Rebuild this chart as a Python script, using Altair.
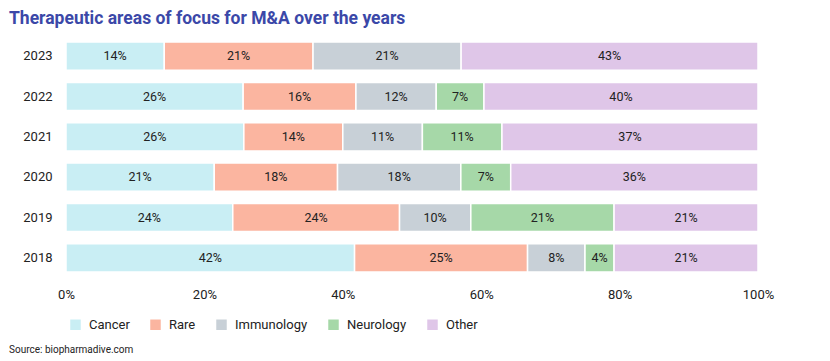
import altair as alt
import pandas as pd

years = ["2023", "2022", "2021", "2020", "2019", "2018"]
areas = ["Cancer", "Rare", "Immunology", "Neurology", "Other"]
# underlying shares and the rounded labels shown
cancer = [14.2, 25.6, 25.7, 21.4, 24.1, 41.7]
rare = [21.5, 16.3, 14.3, 17.8, 24.1, 25.0]
immunology = [21.4, 11.6, 11.5, 17.8, 10.3, 8.3]
neurology = [0.0, 6.9, 11.5, 7.2, 20.7, 4.2]
other = [42.9, 39.6, 37.0, 35.7, 20.8, 20.8]
cancer_lbl = ["14%", "26%", "26%", "21%", "24%", "42%"]
rare_lbl = ["21%", "16%", "14%", "18%", "24%", "25%"]
immunology_lbl = ["21%", "12%", "11%", "18%", "10%", "8%"]
neurology_lbl = ["", "7%", "11%", "7%", "21%", "4%"]
other_lbl = ["43%", "40%", "37%", "36%", "21%", "21%"]
colors = ["#c9eef4", "#fbb5a0", "#c8d0d7", "#a6d8a8", "#dfc6e8"]

series = [cancer, rare, immunology, neurology, other]
series_lbl = [cancer_lbl, rare_lbl, immunology_lbl, neurology_lbl, other_lbl]
rows = []
for a_i, (a, vals, lbls) in enumerate(zip(areas, series, series_lbl)):
    for y, v, l in zip(years, vals, lbls):
        if v > 0:
            rows.append({"Year": y, "Area": a, "Value": v, "order": a_i, "label": l})
df = pd.DataFrame(rows)

FONT = "Roboto"

base = alt.Chart(df).encode(
    y=alt.Y("Year:N", sort=years, title=None,
            scale=alt.Scale(paddingInner=0.3, paddingOuter=0.15),
            axis=alt.Axis(domain=False, ticks=False, labelPadding=14,
                          labelFontSize=13, labelColor="#222", labelFont=FONT)),
)

bars = base.mark_bar(stroke="white", strokeWidth=1.5).encode(
    x=alt.X("sum(Value):Q", stack="normalize", title=None,
            axis=alt.Axis(format="%", values=[0, 0.2, 0.4, 0.6, 0.8, 1.0],
                          domain=False, ticks=False, grid=False, labelPadding=10,
                          labelFlush=False,
                          labelFontSize=13, labelColor="#222", labelFont=FONT)),
    color=alt.Color("Area:N", sort=areas,
                    scale=alt.Scale(domain=areas, range=colors),
                    legend=alt.Legend(title=None, orient="none", direction="horizontal",
                                      legendX=3, legendY=282, symbolType="square",
                                      symbolSize=110, symbolStrokeWidth=0,
                                      labelFontSize=13, labelColor="#222", labelFont=FONT,
                                      columnPadding=19, labelOffset=7)),
    order=alt.Order("order:Q"),
)

labels = base.mark_text(fontSize=12.5, color="#222", font=FONT).encode(
    x=alt.X("sum(Value):Q", stack="normalize", bandPosition=0.5),
    detail="Area:N",
    text="label:N",
    order=alt.Order("order:Q"),
)

source = alt.Chart(pd.DataFrame({"t": ["Source: biopharmadive.com"]})).mark_text(
    align="left", baseline="middle", fontSize=10, color="#222", font=FONT
).encode(x=alt.value(-57), y=alt.value(314), text="t:N")

chart = alt.layer(bars, labels, source).properties(
    width=692, height=242,
    title=alt.TitleParams("Therapeutic areas of focus for M&A over the years",
                          anchor="start", frame="group", dx=-57, fontSize=17.5, font=FONT,
                          fontWeight="bold", color="#3b48a8", offset=9),
    autosize=alt.AutoSizeParams(type="none"),
    padding={"left": 58, "top": 28, "right": 64, "bottom": 82},
).configure_view(stroke=None)

chart.save("out.html", embed_options={"renderer": "svg", "actions": False})
